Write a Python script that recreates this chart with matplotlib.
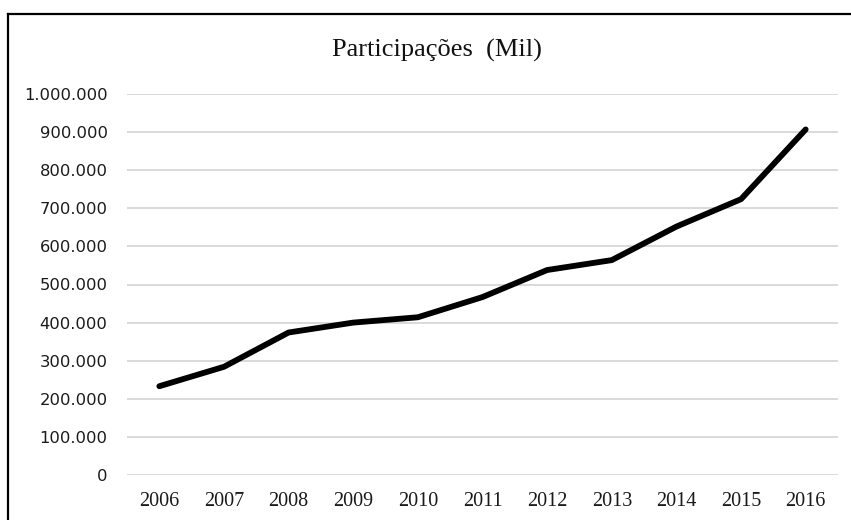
## Participações por ano (line chart)
import matplotlib
matplotlib.use("Agg")
import matplotlib.pyplot as plt
from matplotlib.ticker import FuncFormatter, MultipleLocator
from matplotlib.lines import Line2D

anos = ["2006", "2007", "2008", "2009", "2010", "2011",
        "2012", "2013", "2014", "2015", "2016"]
participacoes = [233000, 284000, 374000, 400000, 414000, 467000,
                 538000, 564000, 652000, 724000, 907000]
titulo = "Participações  (Mil)"

W, H = 851, 520
fig = plt.figure(figsize=(W / 100, H / 100), dpi=100)
ax = fig.add_axes([127 / W, 1 - 475 / H, (838 - 127) / W, (475 - 94) / H])

x = list(range(len(anos)))
ax.plot(x, participacoes, color="black", lw=4.2,
        solid_capstyle="round", solid_joinstyle="round", zorder=3)

## axes: categories centred in their slots, grid every 100.000
ax.set_xlim(-0.5, len(anos) - 0.5)
ax.set_ylim(0, 1000000)
ax.set_xticks(x)
ax.set_xticklabels(anos, family="Liberation Serif", fontsize=14.5)
ax.yaxis.set_major_locator(MultipleLocator(100000))
ax.yaxis.set_major_formatter(FuncFormatter(lambda v, p: f"{int(v):,}".replace(",", ".")))
for lbl in ax.get_yticklabels():
    lbl.set_family("DejaVu Sans")
    lbl.set_fontsize(11.8)
ax.tick_params(axis="y", length=0, pad=14, colors="#1a1a1a")
ax.tick_params(axis="x", length=0, pad=12, colors="#1a1a1a")
ax.grid(axis="y", color="#d9d9d9", lw=1.4)
ax.set_axisbelow(True)
for s in ax.spines.values():
    s.set_visible(False)

fig.text(437 / W, 1 - 50 / H, titulo, family="Liberation Serif",
         fontsize=19, ha="center", va="center", color="#111111")

## outer frame (left and top edges)
fig.add_artist(Line2D([8 / W, 8 / W], [0, 1 - 14 / H], transform=fig.transFigure,
                      color="black", lw=1.6))
fig.add_artist(Line2D([8 / W, 1], [1 - 14 / H, 1 - 14 / H], transform=fig.transFigure,
                      color="black", lw=1.6))

fig.savefig("out.png", dpi=100)
